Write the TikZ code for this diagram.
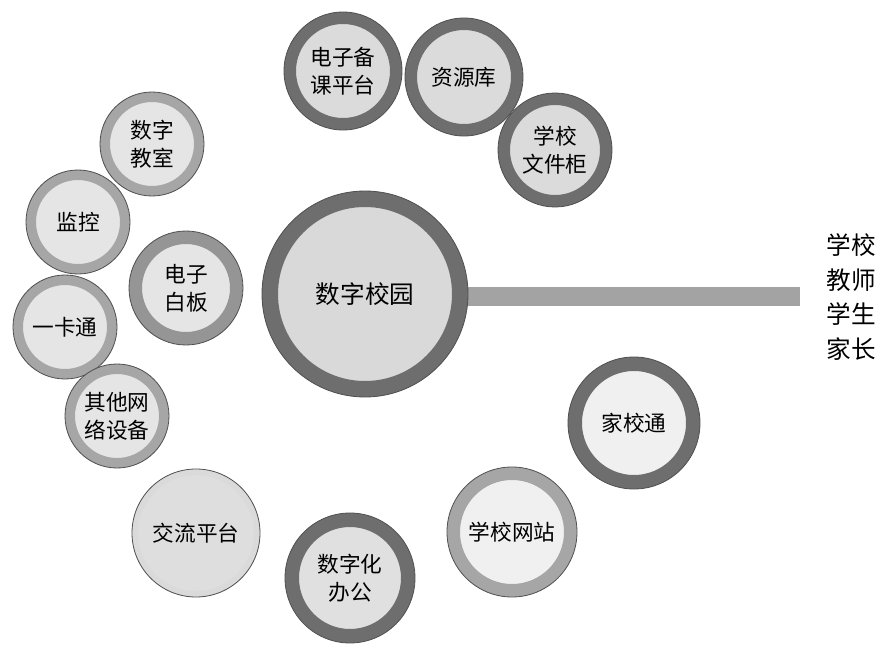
\documentclass[tikz,border=0pt]{standalone}
\usepackage{fontspec}
\setmainfont{Noto Sans CJK SC}
\usepackage{xcolor}
\usetikzlibrary{positioning}

\definecolor{ringdark}{HTML}{6E6E6E}
\definecolor{ringmid}{HTML}{A6A6A6}
\definecolor{ringlite}{HTML}{DADADA}
\definecolor{edge}{HTML}{505050}
\definecolor{barcol}{HTML}{A3A3A3}

\begin{document}
\begin{tikzpicture}[
  x=0.03cm, y=-0.03cm,
  % #1 radius, #2 ring width (px), #3 ring colour, #4 inner fill
  bub/.style n args={4}{circle, draw=edge, line width=0.7pt, fill=#4,
    minimum size=#1*0.06cm, inner sep=0pt, align=center,
    font=\fontsize{18.5}{24}\selectfont,
    path picture={\draw[#3, line width=#2*0.03cm]
      (path picture bounding box.center) circle[radius=#1*0.03cm-#2*0.015cm];}},
  bar/.style={barcol, line width=0.57cm},
]
  \useasboundingbox (0,0) rectangle (885,645);

  % centre and the bar to the users
  \coordinate (barend) at (800,296);
  \draw[bar] (365,296) -- (barend);
  \node[bub={103}{16}{ringdark}{black!15}, font=\fontsize{21}{26}\selectfont] (yuan) at (365,294) {数字校园};
  \node[align=center, font=\fontsize{21}{29.5}\selectfont] (users) at (851,297) {学校\\教师\\学生\\家长};

  % top
  \node[bub={59}{12}{ringdark}{black!14}] (beike)  at (343,71)  {电子备\\课平台};
  \node[bub={59}{12}{ringdark}{black!14}] (ziyuan) at (464,77)  {资源库};
  \node[bub={57}{12}{ringdark}{black!14}] (wenjian) at (555,150) {学校\\文件柜};

  % left
  \node[bub={52}{10}{ringmid}{black!10}] (jiaoshi)  at (152,144) {数字\\教室};
  \node[bub={52}{10}{ringmid}{black!10}] (jiankong) at (78,222)  {监控};
  \node[bub={57}{13}{ringmid!90!black}{black!10}] (baiban) at (186,288) {电子\\白板};
  \node[bub={52}{10}{ringmid}{black!10}] (yikatong) at (65,327)  {一卡通};
  \node[bub={52}{10}{ringmid}{black!10}] (shebei)   at (117,416) {其他网\\络设备};

  % bottom
  \node[bub={64}{6}{ringlite}{black!13}] (jiaoliu)  at (196,533) {交流平台};
  \node[bub={65}{14}{ringdark}{black!12}] (bangong) at (350,578) {数字化\\办公};
  \node[bub={65}{13}{ringmid}{black!6}] (wangzhan)  at (512,532) {学校网站};
  \node[bub={66}{14}{ringdark}{black!6}] (jiaxiao)  at (634,423) {家校通};
\end{tikzpicture}
\end{document}
